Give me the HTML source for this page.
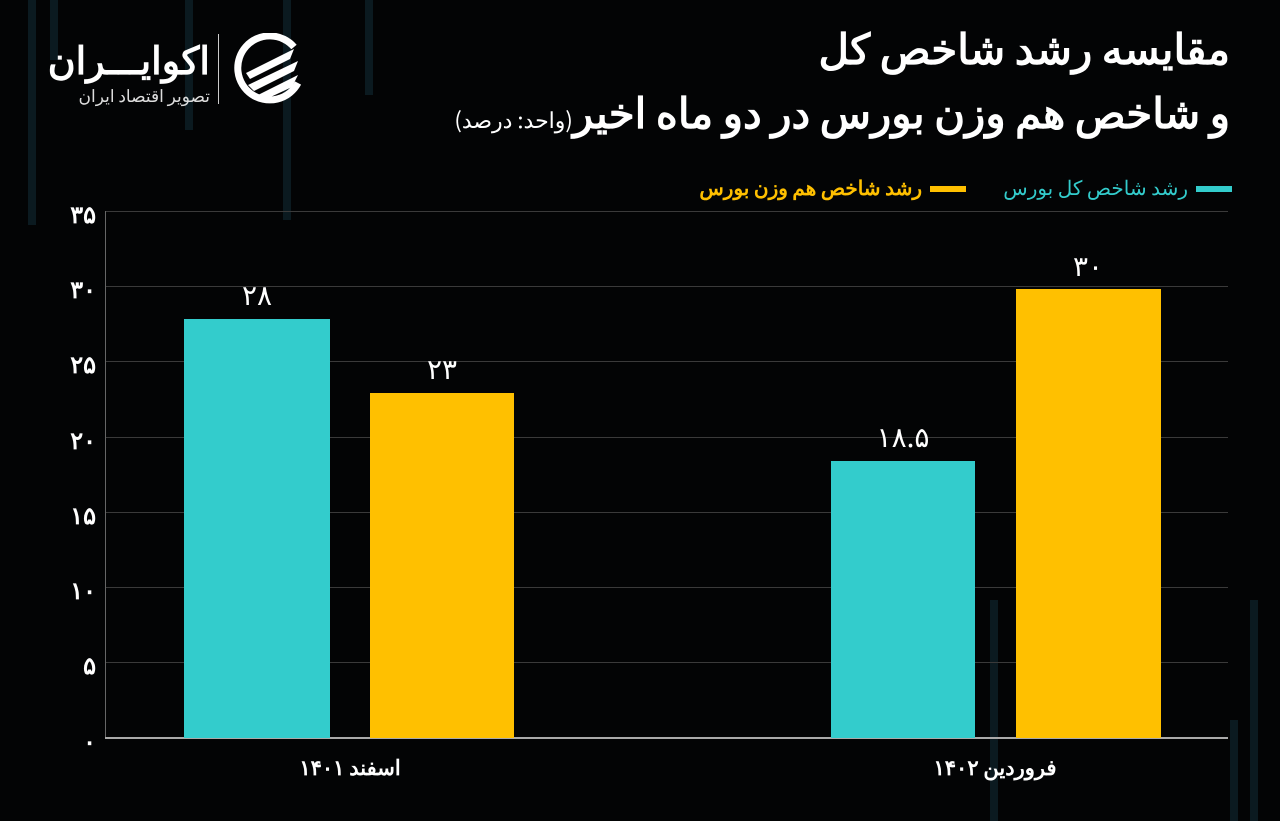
<!DOCTYPE html>
<html><head><meta charset="utf-8"><style>
body{margin:0;width:1280px;height:821px;background:#030405;overflow:hidden;position:relative;font-family:"Liberation Sans","Noto Sans CJK SC",sans-serif;color:#fff}
.a{position:absolute}
.bg{position:absolute;background:#0b1a20;width:8px}
.grid{position:absolute;left:105px;width:1123px;height:1px;background:#3a3a3a}
.yl{position:absolute;left:40px;width:56px;text-align:right;font-size:24px;font-weight:bold;font-family:"Noto Sans CJK SC","Liberation Sans",sans-serif}
.bar{position:absolute}
.v{position:absolute;text-align:center;font-size:28px;font-family:"Noto Sans CJK SC",sans-serif;width:150px}
</style></head><body>
<div class="bg" style="left:28px;top:0;height:225px"></div>
<div class="bg" style="left:50px;top:0;height:60px"></div>
<div class="bg" style="left:185px;top:0;height:130px"></div>
<div class="bg" style="left:283px;top:0;height:220px"></div>
<div class="bg" style="left:365px;top:0;height:95px"></div>
<div class="bg" style="left:990px;top:600px;height:221px"></div>
<div class="bg" style="left:1250px;top:600px;height:221px"></div>
<div class="bg" style="left:1230px;top:720px;height:101px"></div>

<svg class="a" style="left:232px;top:33px" width="74" height="74" viewBox="0 0 74 74">
<path d="M62 14 A32 32 0 1 0 66 50" fill="none" stroke="#fff" stroke-width="7"/>
<path d="M14 40 L62 16 L58 26 L18 46 Z M16 52 L66 28 L62 38 L22 58 Z M22 64 L66 42 L60 54 L30 68 Z" fill="#fff"/>
</svg>
<div class="a" style="left:218px;top:34px;width:1px;height:70px;background:#ccc"></div>
<div class="a" style="left:50px;top:35px;width:160px;text-align:right;font-size:38px;font-weight:bold;font-family:'Noto Sans CJK SC',sans-serif;line-height:45px" dir="rtl">اکوایـــران</div>
<div class="a" style="left:50px;top:82px;width:160px;text-align:right;font-size:17px;font-family:'Noto Sans CJK SC',sans-serif;color:#ddd" dir="rtl">تصویر اقتصاد ایران</div>

<div class="a" dir="rtl" style="right:50px;top:19px;font-size:42px;font-weight:bold;font-family:'Noto Sans CJK SC',sans-serif;line-height:56px">مقایسه رشد شاخص کل</div>
<div class="a" dir="rtl" style="right:50px;top:83px;font-size:42px;font-weight:bold;font-family:'Noto Sans CJK SC',sans-serif;line-height:56px;white-space:nowrap">و شاخص هم وزن بورس در دو ماه اخیر<span style="font-size:22px;font-weight:normal">(واحد: درصد)</span></div>

<div class="a" style="left:1196px;top:186px;width:36px;height:6px;background:#33cccc"></div>
<div class="a" dir="rtl" style="right:92px;top:172px;font-size:20px;color:#33cccc;font-family:'Noto Sans CJK SC',sans-serif">رشد شاخص کل بورس</div>
<div class="a" style="left:930px;top:186px;width:36px;height:6px;background:#ffc000"></div>
<div class="a" dir="rtl" style="right:358px;top:172px;font-size:20px;color:#ffc000;font-weight:bold;font-family:'Noto Sans CJK SC',sans-serif">رشد شاخص هم وزن بورس</div>

<div class="grid" style="top:211px"></div>
<div class="grid" style="top:286px"></div>
<div class="grid" style="top:361px"></div>
<div class="grid" style="top:437px"></div>
<div class="grid" style="top:512px"></div>
<div class="grid" style="top:587px"></div>
<div class="grid" style="top:662px"></div>
<div class="a" style="left:105px;top:211px;width:1px;height:527px;background:#666"></div>
<div class="a" style="left:105px;top:737px;width:1123px;height:2px;background:#aaa"></div>

<div class="yl" style="top:195px">۳۵</div>
<div class="yl" style="top:270px">۳۰</div>
<div class="yl" style="top:345px">۲۵</div>
<div class="yl" style="top:421px">۲۰</div>
<div class="yl" style="top:496px">۱۵</div>
<div class="yl" style="top:571px">۱۰</div>
<div class="yl" style="top:646px">۵</div>
<div class="yl" style="top:722px">۰</div>

<div class="bar" style="left:184px;top:319px;width:146px;height:419px;background:#33cccc"></div>
<div class="bar" style="left:370px;top:393px;width:144px;height:345px;background:#ffc000"></div>
<div class="bar" style="left:831px;top:461px;width:144px;height:277px;background:#33cccc"></div>
<div class="bar" style="left:1016px;top:289px;width:145px;height:449px;background:#ffc000"></div>

<div class="v" style="left:182px;top:274px">۲۸</div>
<div class="v" style="left:367px;top:348px">۲۳</div>
<div class="v" style="left:828px;top:416px">۱۸.۵</div>
<div class="v" style="left:1013px;top:245px">۳۰</div>

<div class="a" dir="rtl" style="left:250px;width:200px;text-align:center;top:752px;font-size:21px;font-weight:bold;font-family:'Noto Sans CJK SC',sans-serif">اسفند ۱۴۰۱</div>
<div class="a" dir="rtl" style="left:895px;width:200px;text-align:center;top:752px;font-size:21px;font-weight:bold;font-family:'Noto Sans CJK SC',sans-serif">فروردین ۱۴۰۲</div>
</body></html>
